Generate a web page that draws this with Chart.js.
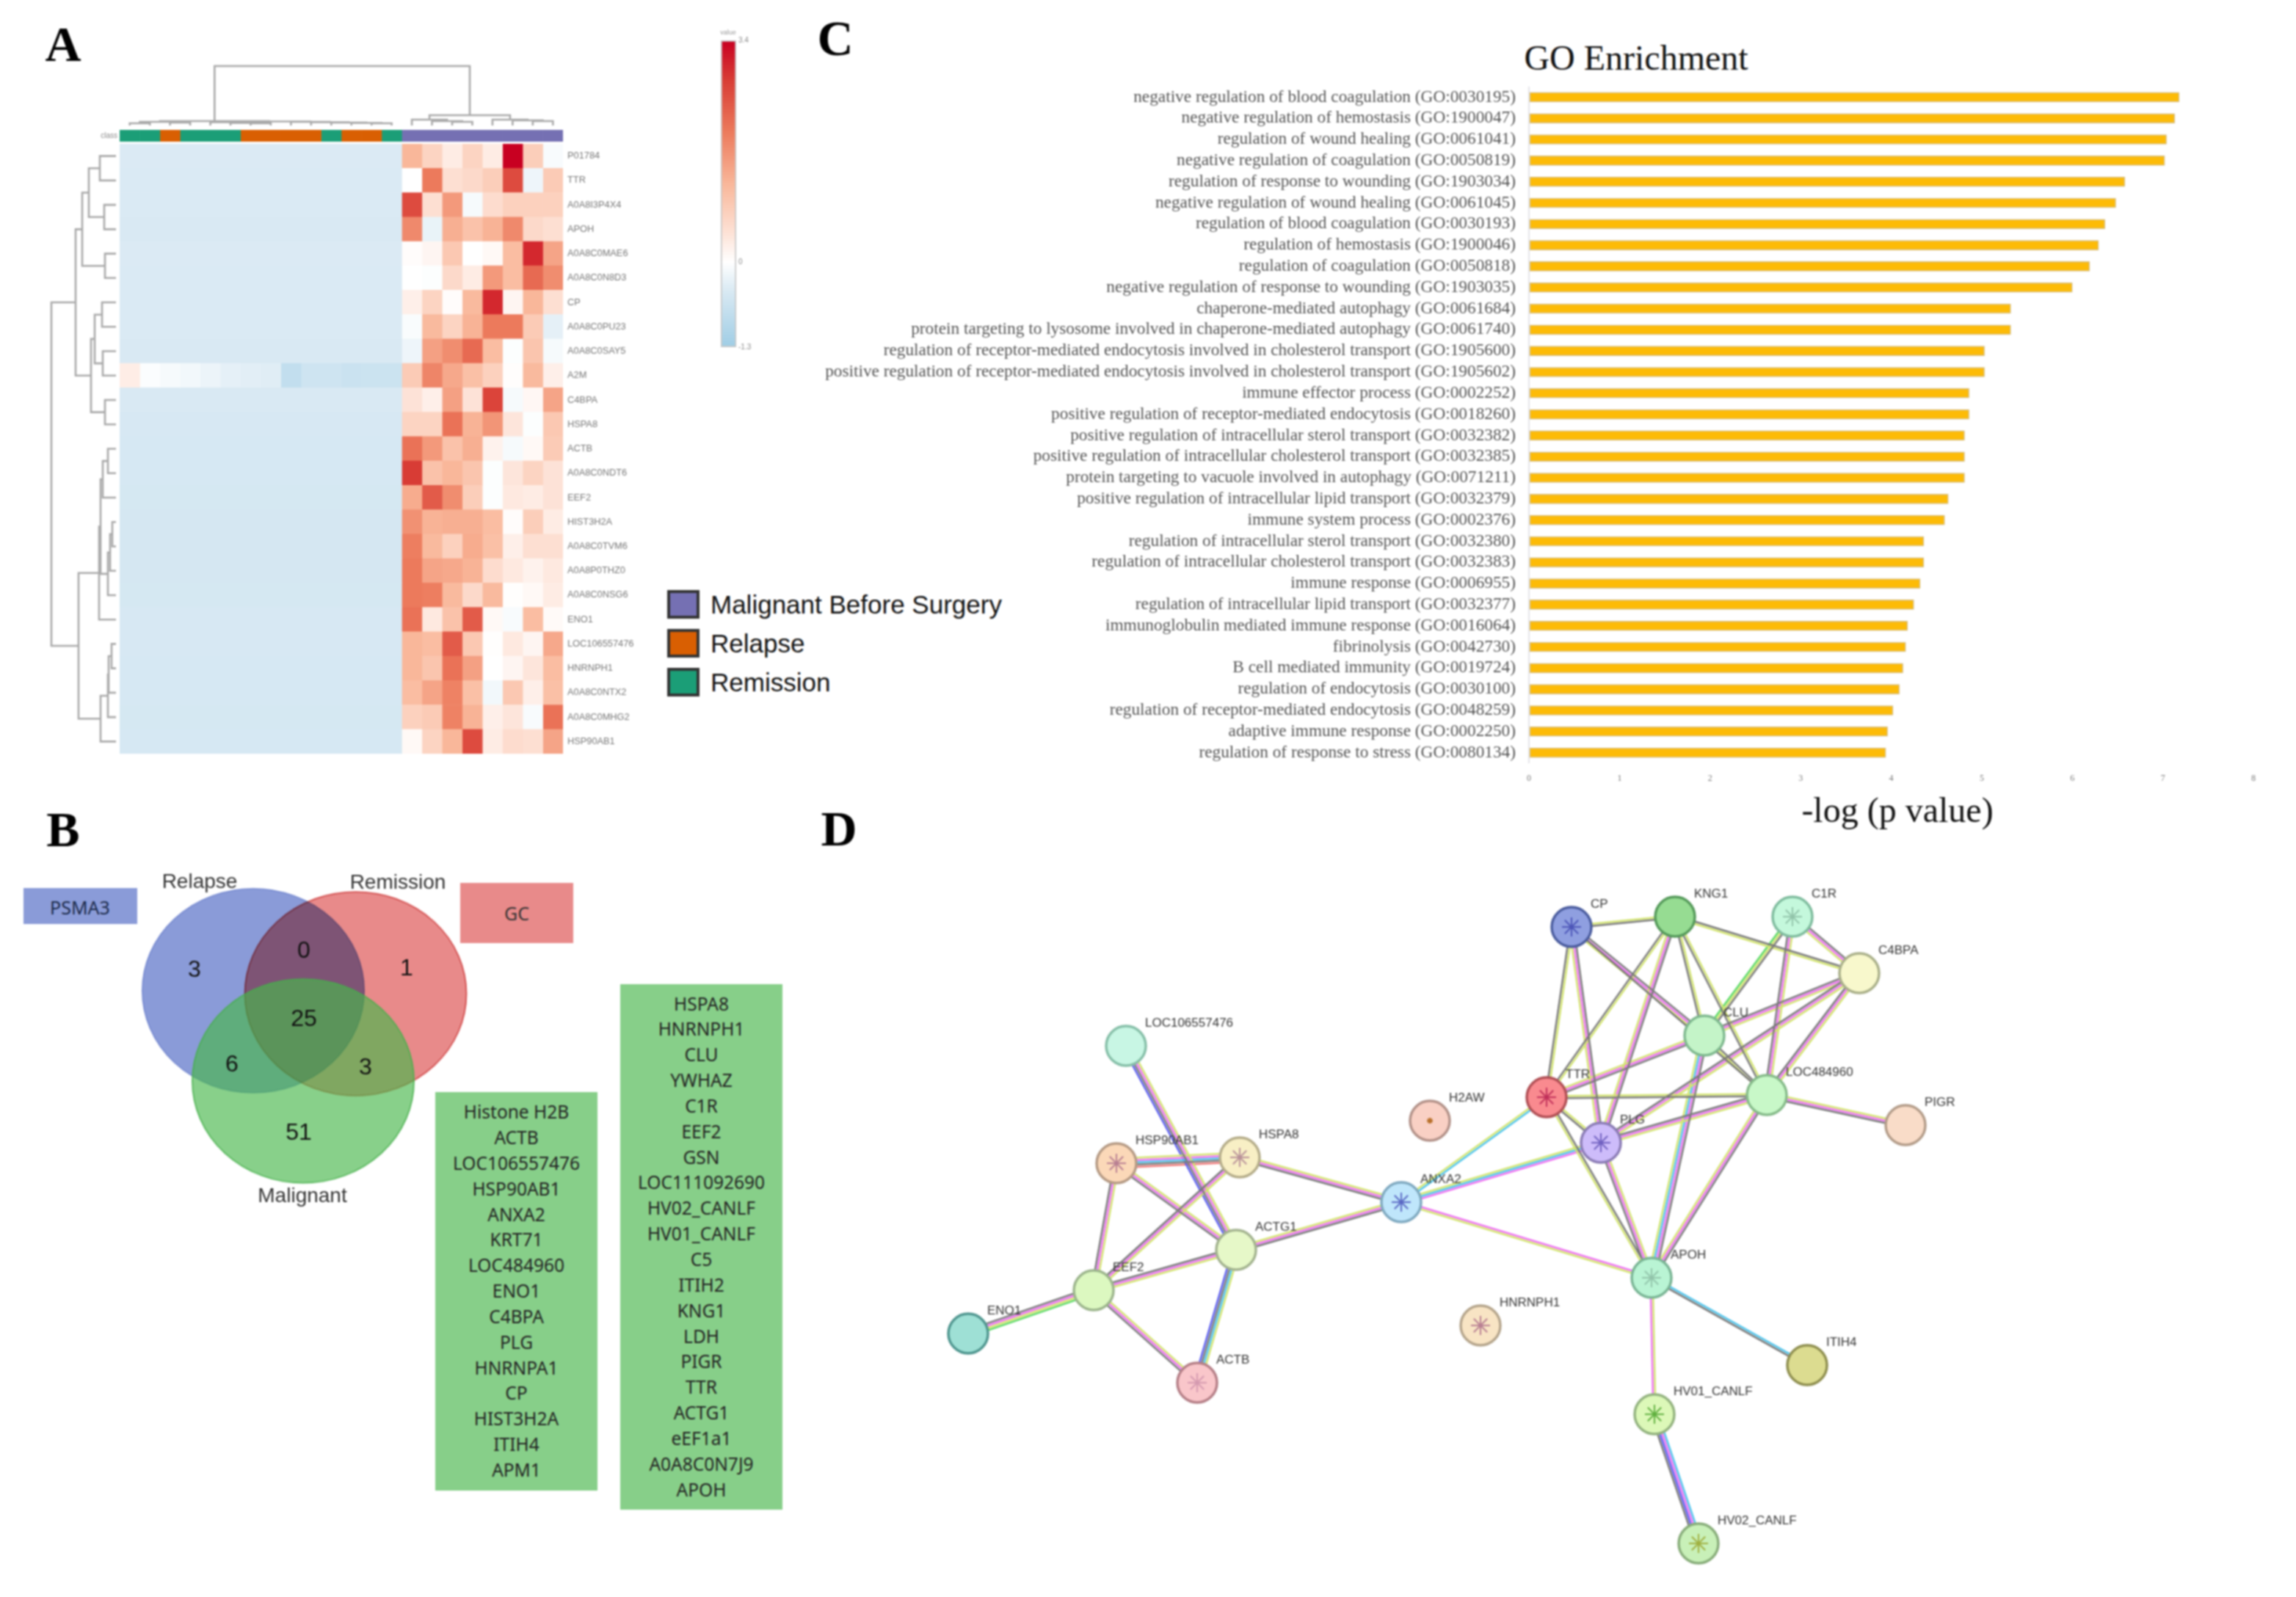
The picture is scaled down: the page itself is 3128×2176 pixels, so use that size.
<!DOCTYPE html>
<html>
<head>
<meta charset="utf-8">
<title>Panels A-D</title>
<script src="https://cdn.jsdelivr.net/npm/chart.js@4"></script>
<style>
html, body { margin: 0; padding: 0; background: #fff; }
#page { position: absolute; left: 0; top: 0; width: 3128px; height: 2176px; overflow: hidden; filter: blur(0.8px); background: #fff; }
#page canvas { position: absolute; }
.note { position: absolute; white-space: nowrap; font-family: "Liberation Sans", sans-serif; color: #222; }
.box { position: absolute; box-sizing: border-box; }
.list { display: flex; flex-direction: column; justify-content: center; align-items: center; background: #87cf89; font-family: "Noto Sans", sans-serif; font-size: 24.5px; line-height: 34.84px; color: #222; }
</style>
</head>
<body>
<div id="page"></div>
<script>
// ---- A: heatmap ----
const rowNames = ['P01784','TTR','A0A8I3P4X4','APOH','A0A8C0MAE6','A0A8C0N8D3','CP','A0A8C0PU23','A0A8C0SAY5','A2M','C4BPA','HSPA8','ACTB','A0A8C0NDT6','EEF2','HIST3H2A','A0A8C0TVM6','A0A8P0THZ0','A0A8C0NSG6','ENO1','LOC106557476','HNRNPH1','A0A8C0NTX2','A0A8C0MHG2','HSP90AB1'];
const columnClass = ['Remission','Remission','Relapse','Remission','Remission','Remission','Relapse','Relapse','Relapse','Relapse','Remission','Relapse','Relapse','Remission','Malignant','Malignant','Malignant','Malignant','Malignant','Malignant','Malignant','Malignant'];
const legendNames = ['Malignant Before Surgery','Relapse','Remission'];
// first 14 columns are nearly flat, only A2M moves
const lowLevels = [-.42,-.43,-.43,-.44,-.42,-.43,-.43,-.43,-.44,-.45,-.44,-.47,-.48,-.48,-.49,-.5,-.5,-.5,-.49,-.47,-.47,-.48,-.48,-.49,-.48];
const a2mLow = [.28,-.05,-.1,-.15,-.22,-.3,-.34,-.36,-.78,-.6,-.6,-.66,-.64,-.64];
const highValues = [
  [1.2,.7,.3,.7,.3,3.4,.8,-.08],
  [0,2.0,.5,.6,.8,2.6,-.2,.85],
  [2.6,.5,1.6,-.1,.55,.75,.75,.75],
  [1.8,-.25,1.3,1.0,1.25,1.8,.6,.5],
  [.05,.15,.9,0,.1,1.1,3.0,1.45],
  [0,-.03,.6,.3,1.6,1.1,2.2,1.75],
  [.25,.7,.05,1.15,3.0,.15,1.2,.5],
  [-.07,1.15,.7,1.25,2.0,2.0,.85,-.3],
  [-.2,1.5,1.75,2.2,1.1,-.03,.95,-.1],
  [.85,1.85,1.4,1.05,.75,.03,1.15,.25],
  [.45,.25,1.5,.45,2.7,-.1,.12,1.45],
  [.7,.7,2.1,1.25,1.65,.4,-.03,.9],
  [2.1,1.6,1.0,1.3,.2,-.1,.1,.85],
  [2.8,1.0,1.2,.95,-.03,.4,.7,.45],
  [1.35,2.4,1.75,.8,-.03,.35,.3,.45],
  [1.7,1.25,1.3,1.3,1.1,.04,.8,.3],
  [1.95,1.15,.75,1.35,1.05,.25,.5,.5],
  [2,1.45,1.4,1.25,.55,.35,.2,.35],
  [2,1.95,1.15,.6,1.15,.02,.1,.3],
  [2.1,.35,1.0,2.4,.1,-.08,1.1,.08],
  [1.2,1.1,2.4,.9,.02,.35,.15,1.4],
  [1.2,.95,2.1,1.5,0,.15,.4,1.1],
  [1.1,1.45,1.9,1.05,-.15,.9,.25,1.05],
  [.75,.85,1.9,1.25,.25,.4,-.08,2.1],
  [.1,.7,1.2,2.6,.3,.55,.5,1.45]
];
const colorTicks = [-1.3, 0, 3.4];
// dendrograms: [height, left, right], a bare number is a leaf
const columnTree = [81,
  [6,
    [5, [3,0,1], [4,2,3]],
    [5.5, [4.5, 4, [3.5, 5, [3,6,7]]], [5, 8, [4.5, 9, [4, 10, [3.5, 11, [3,12,13]]]]]]],
  [14, [8, 14, [6, 15, [5,16,17]]], [8, 18, [7, 19, [6,20,21]]]]
];
const rowTree = [88,
  [55,
    [46, [37, [22,0,1], [16,2,3]], [15,4,5]],
    [34, [29, [19,6,7], [18,8,9]], [15,10,11]]],
  [51,
    [23, [21, [18, [11,12,13], 14], [11, [8, [5,15,16], 17], 18]], 19],
    [21, [11, [10, [6,20,21], 22], 23], 24]]
];

// ---- B: venn ----
const vennSets = ['Relapse','Remission','Malignant'];
const vennCenters = [[345,1350],[484.5,1354],[413,1473]];
const vennCounts = ['3','0','1','25','6','3','51'];
const onlyRelapse = ['PSMA3'];
const onlyRemission = ['GC'];
const listOne = ['Histone H2B','ACTB','LOC106557476','HSP90AB1','ANXA2','KRT71','LOC484960','ENO1','C4BPA','PLG','HNRNPA1','CP','HIST3H2A','ITIH4','APM1'];
const listTwo = ['HSPA8','HNRNPH1','CLU','YWHAZ','C1R','EEF2','GSN','LOC111092690','HV02_CANLF','HV01_CANLF','C5','ITIH2','KNG1','LDH','PIGR','TTR','ACTG1','eEF1a1','A0A8C0N7J9','APOH'];

// ---- C: GO enrichment ----
const goTerms = [
  'negative regulation of blood coagulation (GO:0030195)',
  'negative regulation of hemostasis (GO:1900047)',
  'regulation of wound healing (GO:0061041)',
  'negative regulation of coagulation (GO:0050819)',
  'regulation of response to wounding (GO:1903034)',
  'negative regulation of wound healing (GO:0061045)',
  'regulation of blood coagulation (GO:0030193)',
  'regulation of hemostasis (GO:1900046)',
  'regulation of coagulation (GO:0050818)',
  'negative regulation of response to wounding (GO:1903035)',
  'chaperone-mediated autophagy (GO:0061684)',
  'protein targeting to lysosome involved in chaperone-mediated autophagy (GO:0061740)',
  'regulation of receptor-mediated endocytosis involved in cholesterol transport (GO:1905600)',
  'positive regulation of receptor-mediated endocytosis involved in cholesterol transport (GO:1905602)',
  'immune effector process (GO:0002252)',
  'positive regulation of receptor-mediated endocytosis (GO:0018260)',
  'positive regulation of intracellular sterol transport (GO:0032382)',
  'positive regulation of intracellular cholesterol transport (GO:0032385)',
  'protein targeting to vacuole involved in autophagy (GO:0071211)',
  'positive regulation of intracellular lipid transport (GO:0032379)',
  'immune system process (GO:0002376)',
  'regulation of intracellular sterol transport (GO:0032380)',
  'regulation of intracellular cholesterol transport (GO:0032383)',
  'immune response (GO:0006955)',
  'regulation of intracellular lipid transport (GO:0032377)',
  'immunoglobulin mediated immune response (GO:0016064)',
  'fibrinolysis (GO:0042730)',
  'B cell mediated immunity (GO:0019724)',
  'regulation of endocytosis (GO:0030100)',
  'regulation of receptor-mediated endocytosis (GO:0048259)',
  'adaptive immune response (GO:0002250)',
  'regulation of response to stress (GO:0080134)'
];
const goValues = [7.18,7.13,7.04,7.02,6.58,6.48,6.36,6.29,6.19,6.0,5.32,5.32,5.03,5.03,4.86,4.86,4.81,4.81,4.81,4.63,4.59,4.36,4.36,4.32,4.25,4.18,4.16,4.13,4.09,4.02,3.96,3.94];

// ---- D: network ----
const nodeNames = ['LOC106557476','HSP90AB1','HSPA8','ACTG1','EEF2','ENO1','ACTB','ANXA2','H2AW','HNRNPH1','CP','KNG1','C1R','C4BPA','CLU','LOC484960','TTR','PLG','PIGR','APOH','ITIH4','HV01_CANLF','HV02_CANLF'];
const nodeX = [1534,1521,1689,1684,1490,1319,1631,1909,1948,2017,2141,2282,2442,2533,2322,2407,2107,2181,2596,2250,2462,2254,2314];
const nodeY = [1425,1585,1577,1703,1758,1817,1884,1638,1527,1806,1263,1249,1249,1326,1411,1492,1495,1557,1533,1741,1860,1927,2103];
const nodeFills = ['#c8f6e4','#fbd8b8','#f8efc5','#e6f8c8','#dcf8c0','#9ee0d5','#f9c6ca','#bfe6fb','#f9d0c4','#f8e4c4','#8f9fe0','#96dc92','#c4f8dc','#f8f8cc','#c4f4c8','#c8f8c8','#f98a8f','#cdbcfa','#f9dcc8','#b9f4d4','#dcdc90','#dcf8b8','#c8f0b8'];
const nodeBorders = ['#86bfa8','#b59a84','#b5ad8a','#a3b38f','#9cb58c','#4f968f','#b57f87','#7fa9c0','#b39289','#b5a58c','#4a5c9e','#559a5a','#7fbc9e','#aab08a','#7fb98f','#86bb8a','#b04f55','#8b7cb5','#b39c89','#7ab595','#8f8f50','#93b37f','#88ad7a'];
// nodes that show a small structure picture, with its tint
const glyphNodes = ['HSP90AB1','HSPA8','ACTB','ANXA2','H2AW','HNRNPH1','CP','C1R','TTR','PLG','APOH','HV01_CANLF','HV02_CANLF'];
const glyphTints = ['#b87f92','#b89098','#d59ab0','#5a68c4','#b8702a','#b87f92','#4c55b8','#92c4aa','#c0305a','#7060c0','#92c4aa','#60b040','#a0b040'];
// y text, m coexpression-pink, k grey, c cyan, b blue, r red, g green
const edges = [
  ['LOC106557476','ACTG1','ymkb'],['HSP90AB1','HSPA8','ymckr'],['HSP90AB1','ACTG1','ymk'],['HSP90AB1','EEF2','ymk'],
  ['HSPA8','EEF2','ymk'],['HSPA8','ANXA2','ymk'],['ACTG1','ANXA2','ymk'],['ACTG1','EEF2','ymk'],['ACTG1','ACTB','yckb'],
  ['EEF2','ENO1','gymk'],['EEF2','ACTB','ymk'],['ANXA2','TTR','yc'],['ANXA2','PLG','ycm'],['ANXA2','APOH','my'],
  ['CP','KNG1','yk'],['CP','TTR','yk'],['CP','PLG','kmy'],['CP','CLU','kmy'],['CP','LOC484960','k'],
  ['KNG1','TTR','yk'],['KNG1','PLG','kmy'],['KNG1','CLU','yk'],['KNG1','LOC484960','yk'],['KNG1','C4BPA','ky'],
  ['C1R','C4BPA','kmy'],['C1R','LOC484960','ymk'],['C1R','CLU','kyg'],
  ['C4BPA','CLU','ymk'],['C4BPA','LOC484960','ymk'],['C4BPA','PLG','ymk'],
  ['TTR','CLU','ymk'],['TTR','LOC484960','yk'],['TTR','PLG','yk'],['TTR','APOH','ky'],
  ['CLU','LOC484960','ky'],['CLU','APOH','kmcy'],
  ['LOC484960','PLG','ymk'],['LOC484960','PIGR','ymk'],['LOC484960','APOH','kmy'],
  ['PLG','APOH','ymk'],['APOH','ITIH4','ck'],['APOH','HV01_CANLF','ym'],['HV01_CANLF','HV02_CANLF','cmbk']
];

// ---- styles ----
const CLASS_COLORS = { Malignant: '#7570b3', Relapse: '#d95f02', Remission: '#1b9e77' };
const EDGE_COLORS = { y: '#d3e56e', m: '#ee70f2', k: '#787878', c: '#4cc4ec', b: '#5a5cf0', r: '#f07878', g: '#56d860' };
const HEAT_STOPS = [[-1.3,'#9fcde5'],[-.45,'#d8e9f3'],[0,'#ffffff'],[.5,'#fddfd2'],[1.2,'#f9b79a'],[2,'#ec7a5c'],[2.8,'#d83c35'],[3.4,'#c80021']];
const page = document.getElementById('page');

Chart.defaults.animation = false;
Chart.defaults.responsive = false;
Chart.defaults.devicePixelRatio = 1;
Chart.defaults.layout.autoPadding = false;
Chart.defaults.plugins.legend.display = false;
Chart.defaults.plugins.tooltip.enabled = false;
Chart.defaults.font.family = "'Liberation Sans', sans-serif";

function addCanvas(x, y, w, h) {
    const c = document.createElement('canvas');
    c.width = w; c.height = h;
    c.style.left = x + 'px'; c.style.top = y + 'px';
    page.appendChild(c);
    return c;
}

function note(text, x, y, css, centered) {
    const d = document.createElement('div');
    d.className = 'note';
    d.textContent = text;
    d.style.cssText = `left:${x}px;top:${y}px;transform:translate(${centered ? '-50%' : '0'},-50%);${css || ''}`;
    page.appendChild(d);
}

function box(x, y, w, h, css, cls) {
    const d = document.createElement('div');
    d.className = 'box ' + (cls || '');
    d.style.cssText = `left:${x}px;top:${y}px;width:${w}px;height:${h}px;${css || ''}`;
    page.appendChild(d);
    return d;
}

function hexRgb(h) {
    return [1, 3, 5].map(i => parseInt(h.substr(i, 2), 16));
}

function heatColor(v) {
    for (let i = 1; i < HEAT_STOPS.length; i++) {
        if (v <= HEAT_STOPS[i][0]) {
            const [v0, c0] = HEAT_STOPS[i - 1], [v1, c1] = HEAT_STOPS[i];
            const t = Math.max(0, (v - v0) / (v1 - v0));
            const a = hexRgb(c0), b = hexRgb(c1);
            return `rgb(${a.map((p, k) => Math.round(p + (b[k] - p) * t)).join(',')})`;
        }
    }
    return HEAT_STOPS[HEAT_STOPS.length - 1][1];
}

// tick padding would otherwise eat into the plot area
function fixAxisSize(s, size) {
    if (s.isHorizontal()) s.height = size; else s.width = size;
    s.paddingTop = s.paddingBottom = s.paddingLeft = s.paddingRight = 0;
}

// walks a dendrogram and returns the U-shaped links as one broken polyline
function treeLine(tree, horizontal) {
    const out = [];
    const put = (pos, h) => out.push(horizontal ? { x: h, y: pos } : { x: pos, y: h });
    (function walk(n) {
        if (typeof n === 'number') return { pos: n + .5, h: 0 };
        const a = walk(n[1]), b = walk(n[2]);
        put(a.pos, a.h); put(a.pos, n[0]); put(b.pos, n[0]); put(b.pos, b.h);
        out.push({ x: NaN, y: NaN });
        return { pos: (a.pos + b.pos) / 2, h: n[0] };
    })(tree);
    return out;
}

const hiddenAxis = (min, max, reverse) => ({ type: 'linear', display: false, min, max, reverse: !!reverse });

function dendrogram(canvas, tree, horizontal, xAxis, yAxis) {
    return new Chart(canvas, {
        type: 'scatter',
        data: { datasets: [{ data: treeLine(tree, horizontal), showLine: true, pointRadius: 0, borderColor: '#a9a9a9', borderWidth: 2.6, spanGaps: false, clip: false }] },
        options: { scales: { x: xAxis, y: yAxis } }
    });
}

// ---- panel A ----
const heatRows = rowNames.map((_, r) => (r === 9 ? a2mLow : Array(14).fill(lowLevels[r])).concat(highValues[r]));

new Chart(addCanvas(163, 196, 724, 831), {
    type: 'bar',
    data: {
        labels: rowNames,
        datasets: columnClass.map((_, c) => ({
            data: rowNames.map(() => 1),
            backgroundColor: heatRows.map(row => heatColor(row[c])),
            barPercentage: 1, categoryPercentage: 1
        }))
    },
    options: {
        indexAxis: 'y',
        scales: {
            x: { stacked: true, display: false, min: 0, max: columnClass.length },
            y: {
                stacked: true, position: 'right',
                grid: { display: false, drawTicks: false }, border: { display: false },
                ticks: { autoSkip: false, padding: 6, color: '#777', font: { size: 12.8 } },
                afterFit: s => fixAxisSize(s, 120)
            }
        }
    }
});

new Chart(addCanvas(123, 177, 644, 16), {
    type: 'bar',
    data: {
        labels: ['class'],
        datasets: columnClass.map(k => ({ data: [1], backgroundColor: CLASS_COLORS[k], barPercentage: 1, categoryPercentage: 1 }))
    },
    options: {
        indexAxis: 'y',
        scales: {
            x: { stacked: true, display: false, min: 0, max: columnClass.length },
            y: {
                stacked: true,
                grid: { display: false, drawTicks: false }, border: { display: false },
                ticks: { padding: 3, color: '#888', font: { size: 10 } },
                afterFit: s => fixAxisSize(s, 40)
            }
        }
    }
});

dendrogram(addCanvas(163, 85, 604, 86), columnTree, false, hiddenAxis(0, columnClass.length), hiddenAxis(0, 86));
dendrogram(addCanvas(60, 196, 98, 831), rowTree, true, hiddenAxis(0, 98, true), hiddenAxis(0, rowNames.length, true));

// colour key
new Chart(addCanvas(982, 45, 60, 438), {
    type: 'bar',
    data: {
        labels: ['value'],
        datasets: [{
            data: [[colorTicks[0], colorTicks[2]]],
            barPercentage: 1, categoryPercentage: 1,
            borderWidth: 2, borderColor: '#c6c6c6', borderSkipped: false,
            backgroundColor: ctx => {
                const area = ctx.chart.chartArea;
                if (!area) return '#fff';
                const g = ctx.chart.ctx.createLinearGradient(0, area.bottom, 0, area.top);
                HEAT_STOPS.forEach(([v, col]) => g.addColorStop((v - colorTicks[0]) / (colorTicks[2] - colorTicks[0]), col));
                return g;
            }
        }]
    },
    options: {
        layout: { padding: { top: 10, bottom: 10 } },
        scales: {
            x: { display: false },
            y: {
                position: 'right', min: colorTicks[0], max: colorTicks[2],
                grid: { display: false, drawTicks: false }, border: { display: false },
                afterBuildTicks: s => { s.ticks = colorTicks.map(value => ({ value })); },
                ticks: { padding: 3, color: '#8a8a8a', font: { size: 10 }, callback: v => String(v) },
                afterFit: s => fixAxisSize(s, 39)
            }
        }
    }
});
note('value', 992, 44, 'font-size:9px;color:#999;', true);

[CLASS_COLORS.Malignant, CLASS_COLORS.Relapse, CLASS_COLORS.Remission].forEach((col, i) => {
    box(909, 804 + i * 53, 44, 39, `background:${col};border:4px solid #333;`);
    note(legendNames[i], 968, 824 + i * 53, 'font-size:35px;color:#111;');
});

// ---- panel B ----
const vennCanvas = addCanvas(150, 1190, 540, 478);
vennCanvas.style.transform = 'scaleY(.92)';
vennCanvas.style.transformOrigin = '0 0';
new Chart(vennCanvas, {
    type: 'bubble',
    data: {
        datasets: vennSets.map((name, i) => ({
            label: name,
            data: [{ x: vennCenters[i][0], y: vennCenters[i][1], r: 151 }],
            backgroundColor: ['#8a9bd8', '#e88a8a', 'rgba(72,183,75,.65)'][i],
            borderColor: ['#7a8dd2', '#e07474', 'rgba(70,175,75,.8)'][i],
            borderWidth: 2, clip: false, order: 3 - i
        }))
    },
    options: { scales: { x: hiddenAxis(150, 690), y: hiddenAxis(1190, 1630, true) } },
    plugins: [{
        id: 'multiplyBlend',
        beforeDatasetDraw(chart, args) { chart.ctx.save(); if (args.index === 1) chart.ctx.globalCompositeOperation = 'multiply'; },
        afterDatasetDraw(chart) { chart.ctx.restore(); }
    }]
});
const vennCountAt = [[265,1320],[414,1294],[554,1318],[414,1387],[316,1449],[498,1453],[407,1542]];
vennCounts.forEach((t, i) => note(t, vennCountAt[i][0], vennCountAt[i][1], 'font-size:32px;color:#111;', true));
const vennNameAt = [[272,1201],[542,1202],[412,1629]];
vennSets.forEach((t, i) => note(t, vennNameAt[i][0], vennNameAt[i][1], 'font-size:28px;color:#333;', true));

box(32, 1210, 155, 49, 'background:#8a9bd8;');
note(onlyRelapse[0], 109, 1236, 'font-family:"Noto Sans";font-size:25px;color:#1b2a4a;', true);
box(627, 1203, 154, 82, 'background:#e88a8a;');
note(onlyRemission[0], 704, 1244, 'font-family:"Noto Sans";font-size:25px;color:#333;', true);
box(593, 1488, 221, 543, '', 'list').innerHTML = listOne.map(t => `<span>${t}</span>`).join('');
box(845, 1341, 221, 716, '', 'list').innerHTML = listTwo.map(t => `<span>${t}</span>`).join('');

// ---- panel C ----
const SERIF = "'Liberation Serif', serif";
new Chart(addCanvas(1100, 118, 2028, 962), {
    type: 'bar',
    data: {
        labels: goTerms,
        datasets: [{ data: goValues, backgroundColor: '#fdbb06', borderColor: '#d6bd7c', borderWidth: 1.5, borderSkipped: false, barThickness: 13 }]
    },
    options: {
        indexAxis: 'y',
        layout: { padding: { right: 58 } },
        scales: {
            x: {
                min: 0, max: 8,
                grid: { drawTicks: false, color: c => (c.tick.value === 0 ? '#e4e4e8' : 'transparent'), lineWidth: 2 },
                border: { display: false },
                ticks: { stepSize: 1, padding: 14, color: '#777', maxRotation: 0, font: { family: SERIF, size: 12 } },
                afterFit: s => fixAxisSize(s, 40)
            },
            y: {
                grid: { display: false, drawTicks: false }, border: { display: false },
                ticks: { autoSkip: false, padding: 18, color: '#555', font: { family: SERIF, size: 23.3 } },
                afterFit: s => fixAxisSize(s, 983)
            }
        }
    }
});
note('GO Enrichment', 2229, 78, `font-family:${SERIF};font-size:48px;color:#111;`, true);
note('-log (p value)', 2585, 1103, `font-family:${SERIF};font-size:48px;color:#111;`, true);

// ---- panel D ----
const nodeIndex = name => nodeNames.indexOf(name);
const edgeDatasets = Object.keys(EDGE_COLORS).map(key => {
    const data = [];
    edges.forEach(([from, to, kinds]) => {
        const at = kinds.indexOf(key);
        if (at < 0) return;
        const a = nodeIndex(from), b = nodeIndex(to);
        const dx = nodeX[b] - nodeX[a], dy = nodeY[b] - nodeY[a], len = Math.hypot(dx, dy);
        const shift = (at - (kinds.length - 1) / 2) * 3.1;
        const ox = -dy / len * shift, oy = dx / len * shift;
        data.push({ x: nodeX[a] + ox, y: nodeY[a] + oy }, { x: nodeX[b] + ox, y: nodeY[b] + oy }, { x: NaN, y: NaN });
    });
    return { data, showLine: true, spanGaps: false, pointRadius: 0, borderColor: EDGE_COLORS[key], borderWidth: 2.5, order: key === 'k' ? 3 : 4 };
});

new Chart(addCanvas(1250, 1180, 1450, 970), {
    type: 'scatter',
    data: {
        datasets: [{
            data: glyphNodes.map(n => ({ x: nodeX[nodeIndex(n)], y: nodeY[nodeIndex(n)] })),
            pointStyle: 'star', pointRadius: glyphNodes.map(n => (n === 'H2AW' ? 4 : 13)), borderWidth: 2,
            borderColor: glyphTints, backgroundColor: glyphTints, order: 1
        }, {
            data: nodeNames.map((_, i) => ({ x: nodeX[i], y: nodeY[i] })),
            pointRadius: 27, borderWidth: 3.5,
            backgroundColor: nodeFills, borderColor: nodeBorders, order: 2
        }].concat(edgeDatasets)
    },
    options: { scales: { x: hiddenAxis(1250, 2700), y: hiddenAxis(1180, 2150, true) } },
    plugins: [{
        id: 'nodeLabels',
        afterDatasetsDraw(chart) {
            const { ctx, scales } = chart;
            ctx.save();
            ctx.font = "17px 'Liberation Sans', sans-serif";
            ctx.fillStyle = '#333';
            ctx.textBaseline = 'middle';
            nodeNames.forEach((t, i) => ctx.fillText(t, scales.x.getPixelForValue(nodeX[i]) + 26, scales.y.getPixelForValue(nodeY[i]) - 31));
            ctx.restore();
        }
    }]
});

// panel letters
const letterCss = `font-family:${SERIF};font-weight:bold;font-size:68px;color:#000;`;
note('A', 86, 60, letterCss, true);
note('B', 86, 1130, letterCss, true);
note('C', 1138, 52, letterCss, true);
note('D', 1143, 1129, letterCss, true);
</script>
</body>
</html>
